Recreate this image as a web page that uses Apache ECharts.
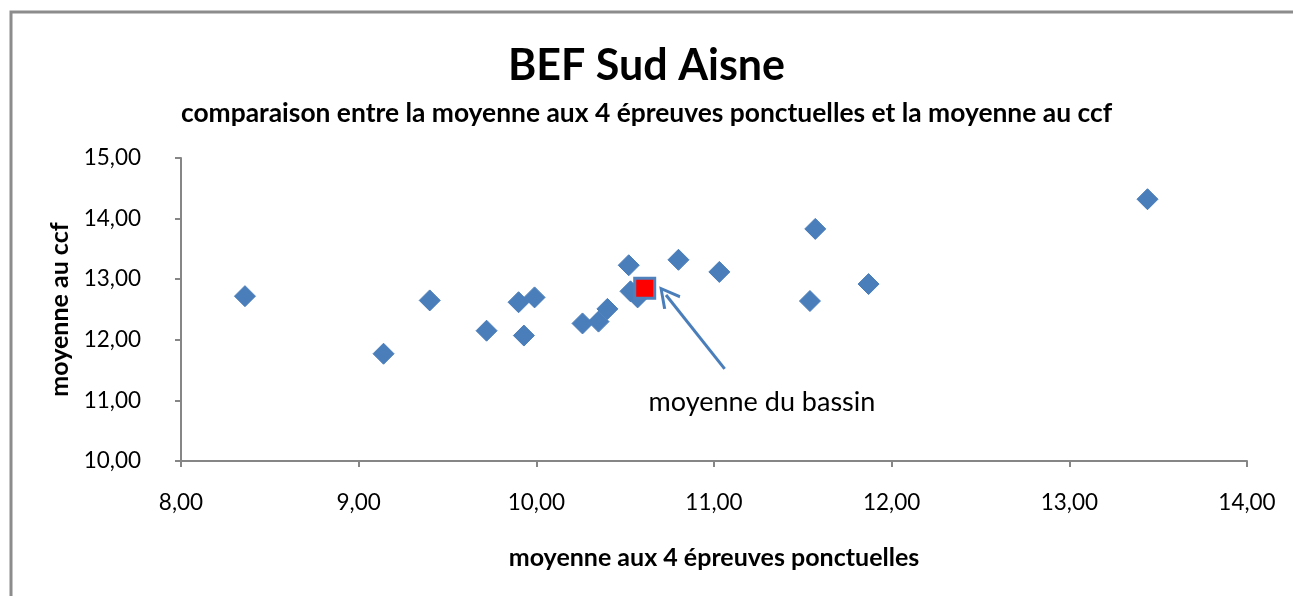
<!DOCTYPE html>
<html>
<head>
<meta charset="utf-8">
<script src="https://cdn.jsdelivr.net/npm/echarts@6/dist/echarts.min.js"></script>
<style>
  html, body { margin: 0; padding: 0; background: #fff; }
  #chart { width: 1293px; height: 596px; }
</style>
</head>
<body>
<div id="chart"></div>
<script>
// moyenne aux 4 épreuves ponctuelles (x) / moyenne au ccf (y)
const xEtab = [8.36, 9.14, 9.40, 9.72, 9.90, 9.99, 9.93, 10.26, 10.35, 10.40, 10.52, 10.53, 10.57, 10.80, 11.03, 11.54, 11.57, 11.87, 13.44]
const yEtab = [12.72, 11.77, 12.65, 12.15, 12.62, 12.70, 12.07, 12.27, 12.30, 12.51, 13.23, 12.80, 12.70, 13.32, 13.12, 12.64, 13.83, 12.92, 14.32]
const bassin = [10.61, 12.85]
const arrowFrom = [11.06, 11.52]
const arrowTo = [10.73, 12.74]
const labelAt = [11.27, 10.97]
const xTicks = [8, 14, 1]
const yTicks = [10, 15, 1]

const fmt = v => v.toFixed(2).replace('.', ',')
const font = 'Lato, "Liberation Sans", sans-serif'

let chart = echarts.init(document.getElementById('chart'))
let option = {
  backgroundColor: '#fff',
  animation: false,
  textStyle: { fontFamily: font },
  title: [{
    text: 'BEF Sud Aisne',
    left: 'center',
    top: 40,
    textStyle: { fontSize: 43, fontWeight: 'bold', color: '#000', fontFamily: font }
  }, {
    text: 'comparaison entre la moyenne aux 4 épreuves ponctuelles et la moyenne au ccf',
    left: 'center',
    top: 95,
    textStyle: { fontSize: 26.4, fontWeight: 'bold', color: '#000', fontFamily: font }
  }],
  graphic: [{
    type: 'rect',
    shape: { x: 11, y: 12, width: 1300, height: 600 },
    style: { fill: 'none', stroke: '#8c8c8c', lineWidth: 3 },
    silent: true
  }],
  grid: { left: 181, right: 46, top: 158, bottom: 135 },
  xAxis: {
    type: 'value',
    min: xTicks[0], max: xTicks[1], interval: xTicks[2],
    name: 'moyenne aux 4 épreuves ponctuelles',
    nameLocation: 'middle',
    nameGap: 84,
    nameTextStyle: { fontSize: 25, fontWeight: 'bold', color: '#000' },
    axisLine: { show: true, onZero: false, lineStyle: { color: '#868686', width: 2 } },
    axisTick: { show: true, length: 6, lineStyle: { color: '#868686', width: 2 } },
    axisLabel: { fontSize: 22.5, color: '#000', margin: 30, formatter: fmt },
    splitLine: { show: false }
  },
  yAxis: {
    type: 'value',
    min: yTicks[0], max: yTicks[1], interval: yTicks[2],
    name: 'moyenne au ccf',
    nameLocation: 'middle',
    nameGap: 106,
    nameTextStyle: { fontSize: 25, fontWeight: 'bold', color: '#000' },
    axisLine: { show: true, onZero: false, lineStyle: { color: '#868686', width: 2 } },
    axisTick: { show: true, length: 6, lineStyle: { color: '#868686', width: 2 } },
    axisLabel: { fontSize: 22.5, color: '#000', margin: 40, formatter: fmt },
    splitLine: { show: false }
  },
  series: [{
    type: 'scatter',
    symbol: 'diamond',
    symbolSize: 21,
    itemStyle: { color: '#4a7ebb', borderColor: '#4a7ebb', borderWidth: 1, opacity: 1 },
    emphasis: { disabled: true },
    data: xEtab.map((x, i) => [x, yEtab[i]])
  }, {
    type: 'scatter',
    symbol: 'rect',
    symbolSize: 20,
    itemStyle: { color: '#ff0000', borderColor: '#4f81bd', borderWidth: 3, opacity: 1 },
    emphasis: { disabled: true },
    data: [bassin],
    markLine: {
      silent: true,
      symbol: ['none', 'path://M0,0 L8,15 L6.2,16.3 L0,4.5 L-6.2,16.3 L-8,15 Z'],
      symbolSize: [22, 22],
      lineStyle: { color: '#4a7ebb', width: 3, type: 'solid' },
      label: { show: false },
      data: [[{ coord: arrowFrom }, { coord: arrowTo }]]
    },
    markPoint: {
      silent: true,
      symbol: 'circle',
      symbolSize: 1,
      itemStyle: { color: 'rgba(0,0,0,0)' },
      label: { show: true, position: 'inside', fontSize: 27, color: '#000', fontFamily: font, formatter: 'moyenne du bassin' },
      data: [{ coord: labelAt }]
    }
  }]
}
chart.setOption(option)
</script>
</body>
</html>
